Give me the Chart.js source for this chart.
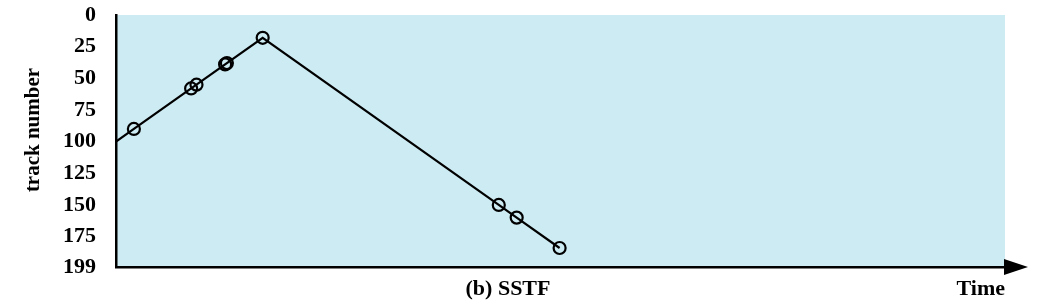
<!DOCTYPE html>
<html>
<head>
<meta charset="utf-8">
<script src="https://cdn.jsdelivr.net/npm/chart.js@4"></script>
<style>
  html, body { margin: 0; padding: 0; background: #fff; }
  #wrap { width: 1038px; height: 306px; }
</style>
</head>
<body>
<div id="wrap"><canvas id="chart" width="1038" height="306"></canvas></div>
<script>
// SSTF: head starts at track 100, x = tracks traversed so far
const seekTime = [0, 10, 42, 45, 61, 62, 82, 214, 224, 248];
const trackNumber = [100, 90, 58, 55, 39, 38, 18, 150, 160, 184];
const yTicks = [0, 25, 50, 75, 100, 125, 150, 175, 199];
const caption = "(b) SSTF";
const xLabel = "Time";
const yLabel = "track number";

const serif = "'Liberation Serif', 'DejaVu Serif', serif";

const points = seekTime.map((t, i) => ({ x: t, y: trackNumber[i] }));

const extras = {
  id: "extras",
  beforeDraw(chart) {
    const { ctx, chartArea: a } = chart;
    ctx.save();
    ctx.fillStyle = "#cdebf2";
    ctx.fillRect(a.left, a.top, a.right - a.left, a.bottom - a.top);
    ctx.restore();
  },
  afterDraw(chart) {
    const { ctx, chartArea: a } = chart;
    ctx.save();
    // axis arrow
    ctx.strokeStyle = "#000";
    ctx.lineWidth = 2.5;
    ctx.beginPath();
    ctx.moveTo(a.right, a.bottom);
    ctx.lineTo(a.right + 10, a.bottom);
    ctx.stroke();
    ctx.fillStyle = "#000";
    ctx.beginPath();
    ctx.moveTo(a.right - 1, a.bottom - 8);
    ctx.lineTo(a.right + 23, a.bottom);
    ctx.lineTo(a.right - 1, a.bottom + 8);
    ctx.closePath();
    ctx.fill();

    ctx.font = "bold 22px " + serif;
    ctx.textBaseline = "middle";
    ctx.textAlign = "center";
    ctx.fillText(caption, 508, 289);
    ctx.textAlign = "right";
    ctx.fillText(xLabel, a.right, 289);

    ctx.translate(34, 130);
    ctx.rotate(-Math.PI / 2);
    ctx.textAlign = "center";
    ctx.font = "bold 21px " + serif;
    ctx.fillText(yLabel, 0, 0);
    ctx.restore();
  }
};

new Chart(document.getElementById("chart"), {
  type: "scatter",
  data: {
    datasets: [{
      data: points,
      showLine: true,
      borderColor: "#000",
      borderWidth: 2.2,
      backgroundColor: "rgba(0,0,0,0)",
      pointRadius: trackNumber.map((_, i) => (i === 0 ? 0 : 6)),
      pointBorderWidth: 2.2,
      pointBorderColor: "#000",
      pointBackgroundColor: "rgba(0,0,0,0)"
    }]
  },
  options: {
    responsive: false,
    animation: false,
    layout: { padding: { left: 0, top: 15, right: 33, bottom: 0 } },
    plugins: { legend: { display: false }, tooltip: { enabled: false } },
    scales: {
      x: {
        type: "linear",
        min: 0,
        max: 497,
        grid: { display: false, drawTicks: false },
        border: { display: true, color: "#000", width: 2.5 },
        ticks: { display: false },
        afterFit(scale) {
          scale.height = 39;
          scale.paddingLeft = 0;
          scale.paddingRight = 0;
        }
      },
      y: {
        type: "linear",
        reverse: true,
        min: 0,
        max: 199,
        grid: { display: false, drawTicks: false },
        border: { display: true, color: "#000", width: 2.5 },
        ticks: {
          color: "#000",
          padding: 20,
          font: { family: serif, size: 22, weight: "bold" }
        },
        afterBuildTicks(scale) {
          scale.ticks = yTicks.map(v => ({ value: v }));
        },
        afterFit(scale) {
          scale.width = 116;
          scale.paddingTop = 0;
          scale.paddingBottom = 0;
        }
      }
    }
  },
  plugins: [extras]
});
</script>
</body>
</html>
